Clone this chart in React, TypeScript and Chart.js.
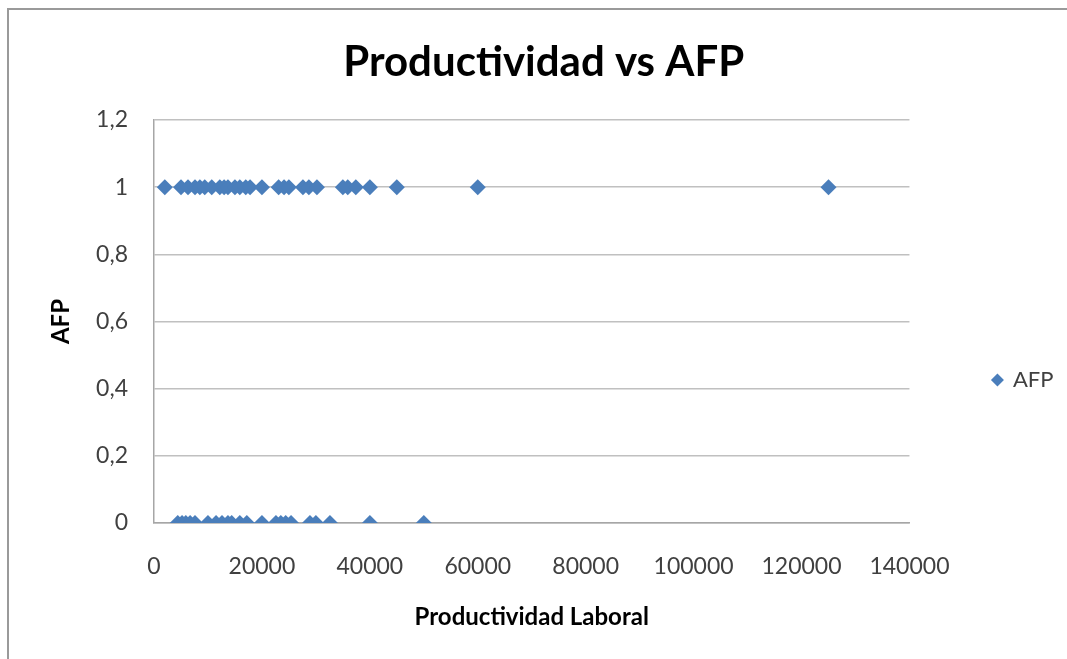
import React, { useEffect, useRef } from "react";
import { Chart, registerables } from "chart.js";

Chart.register(...registerables);

const chartTitle = "Productividad vs AFP";
const xAxisTitle = "Productividad Laboral";
const yAxisTitle = "AFP";
const seriesName = "AFP";

// Productividad Laboral values of the observations with AFP = 1
const afpOneX = [
  2000, 5000, 6300, 7600, 8500, 9400, 10700, 12200, 13000, 13700, 15000, 15900,
  17000, 17800, 20000, 23100, 24100, 25000, 27600, 28700, 30200, 35000, 35900,
  37400, 40000, 45000, 60000, 125000,
];
// Productividad Laboral values of the observations with AFP = 0
const afpZeroX = [
  4400, 5200, 5900, 6700, 7600, 10000, 11500, 12600, 13700, 14400, 15900, 17200,
  20000, 22600, 23500, 24400, 25400, 28900, 30000, 32600, 40000, 50000,
];

const xTicks = [0, 20000, 40000, 60000, 80000, 100000, 120000, 140000];
const yTicks = [0, 0.2, 0.4, 0.6, 0.8, 1, 1.2];

const FONT = "Lato, 'Open Sans', 'DejaVu Sans', sans-serif";
const POINT_COLOR = "#4a7ebb";

export default function App() {
  const canvasRef = useRef<HTMLCanvasElement | null>(null);

  useEffect(() => {
    const canvas = canvasRef.current;
    if (!canvas) return;

    const data = [
      ...afpOneX.map((x) => ({ x, y: 1 })),
      ...afpZeroX.map((x) => ({ x, y: 0 })),
    ];

    const chart = new Chart(canvas, {
      type: "scatter",
      data: {
        datasets: [
          {
            label: seriesName,
            data,
            pointStyle: "rectRot",
            pointRadius: 8,
            pointHoverRadius: 8,
            backgroundColor: POINT_COLOR,
            borderColor: POINT_COLOR,
            borderWidth: 0,
          },
        ],
      },
      options: {
        responsive: false,
        animation: false,
        events: [],
        layout: { padding: { left: 24, right: 3.5, top: 10, bottom: 10 } },
        plugins: {
          tooltip: { enabled: false },
          title: {
            display: true,
            text: chartTitle,
            color: "#000000",
            font: { family: FONT, size: 42, weight: "bold" },
            padding: { top: 26.8, bottom: 32.8 },
          },
          legend: {
            display: true,
            position: "right",
            title: {
              display: true,
              text: "",
              font: { family: FONT, size: 12 },
              padding: { top: 86.6, bottom: 0 },
            },
            labels: {
              usePointStyle: true,
              boxWidth: 9,
              boxHeight: 9.2,
              padding: 83.5,
              color: "#404040",
              font: { family: FONT, size: 22 },
            },
          },
        },
        scales: {
          x: {
            type: "linear",
            min: 0,
            max: 140000,
            afterBuildTicks: (scale: any) => {
              scale.ticks = xTicks.map((v) => ({ value: v }));
            },
            afterFit: (scale: any) => {
              scale.height = 126;
            },
            grid: { display: false, drawTicks: false },
            border: { display: true, color: "#a6a6a6", width: 1.5 },
            ticks: {
              padding: 30,
              color: "#404040",
              maxRotation: 0,
              font: { family: FONT, size: 23 },
              callback: (v: any) => String(v),
            },
            title: {
              display: true,
              text: xAxisTitle,
              color: "#000000",
              font: { family: FONT, size: 24, weight: "bold" },
              padding: { top: 0, bottom: 17.6 },
            },
          },
          y: {
            type: "linear",
            min: 0,
            max: 1.2,
            afterBuildTicks: (scale: any) => {
              scale.ticks = yTicks.map((v) => ({ value: v }));
            },
            afterFit: (scale: any) => {
              scale.width = 130;
            },
            grid: { display: true, drawTicks: false, color: "#c0c0c0", lineWidth: 1.5 },
            border: { display: true, color: "#a6a6a6", width: 1.5 },
            ticks: {
              padding: 26,
              color: "#404040",
              font: { family: FONT, size: 23 },
              callback: (v: any) => String(Math.round(Number(v) * 10) / 10).replace(".", ","),
            },
            title: {
              display: true,
              text: yAxisTitle,
              color: "#000000",
              font: { family: FONT, size: 24, weight: "bold" },
              padding: { top: 23, bottom: 0 },
            },
          },
        },
      },
    });

    return () => {
      chart.destroy();
    };
  }, []);

  return (
    <div
      style={{
        position: "fixed",
        left: 0,
        top: 0,
        width: 1067,
        height: 659,
        background: "#ffffff",
        overflow: "hidden",
      }}
    >
      <canvas ref={canvasRef} width={1067} height={659} style={{ width: 1067, height: 659, display: "block" }} />
      <div
        style={{
          position: "absolute",
          left: 7,
          top: 8,
          width: 1100,
          height: 700,
          borderLeft: "2px solid #9a9a9a",
          borderTop: "2px solid #9a9a9a",
          pointerEvents: "none",
        }}
      />
    </div>
  );
}
